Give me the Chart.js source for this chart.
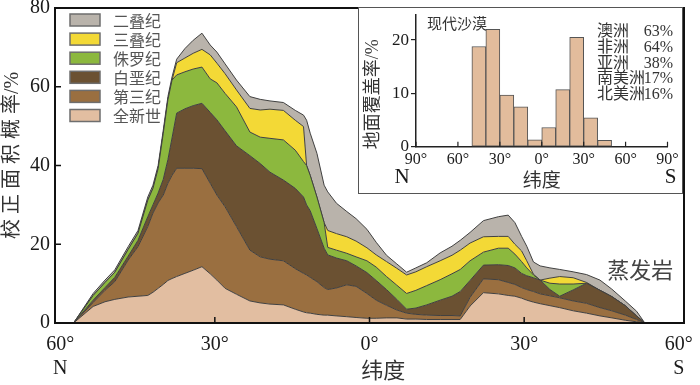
<!DOCTYPE html>
<html lang="zh">
<head>
<meta charset="utf-8">
<title>蒸发岩 纬度分布</title>
<script src="https://cdn.jsdelivr.net/npm/chart.js@4.4.1/dist/chart.umd.min.js"></script>
<style>
  body { margin: 0; background: #fff; }
  #wrap { position: relative; width: 700px; height: 385px; overflow: hidden; }
  #main { position: absolute; left: 0; top: 0; }
  #insetBox { position: absolute; left: 358px; top: 7px; width: 325px; height: 187px;
              box-sizing: border-box; border: 1px solid #555; background: #fff; }
  #inset { display: block; }
</style>
</head>
<body>
<div id="wrap">
  <canvas id="main" width="700" height="385"></canvas>
  <div id="insetBox"><canvas id="inset" width="323" height="185"></canvas></div>
</div>
<script>
// ================= MAIN DATA =================
// latitude of each sample (north positive, south negative)
const latitude = [57.4, 53.6, 51.3, 49.4, 46.8, 44.9, 43.0, 42.0, 41.0, 40.0, 39.1, 38.3, 37.4, 35.8, 34.2, 32.5,
  30.9, 29.6, 28.0, 25.8, 23.2, 21.2, 19.3, 16.7, 14.4, 12.8, 12.2, 11.5, 10.2, 8.8, 8.1, 6.4, 4.4, 2.6, 0.5,
  -1.3, -3.3, -5.3, -7.2, -9.0, -11.1, -13.7, -16.0, -17.6, -19.5, -22.1, -25.0, -26.9, -28.2, -29.5, -30.5,
  -31.8, -33.1, -35.0, -36.9, -39.5, -42.1, -44.7, -47.0, -49.6, -51.8, -53.4];

// upper edge of each band (cumulative %, bottom band first)
const topHolocene = [0, 4.2, 5.4, 6.0, 6.6, 6.8, 7.0, 7.8, 8.8, 9.8, 10.8, 11.3, 11.8, 12.6, 13.4, 14.3,
  12.5, 10.9, 8.8, 7.3, 5.6, 5.1, 4.8, 4.6, 3.5, 2.8, 2.6, 2.5, 2.2, 2.0, 2.0, 1.8, 1.6, 1.4, 1.2,
  1.2, 1.3, 1.3, 1.0, 1.0, 0.9, 0.9, 0.9, 0.9, 4.3, 7.7, 7.4, 7.0, 6.8, 6.3, 5.8,
  5.3, 4.9, 4.4, 3.9, 3.1, 2.5, 1.8, 1.3, 0.7, 0.3, 0];
const topTertiary = [0, 5.2, 8.3, 10.5, 16.0, 19.4, 24.5, 27.9, 30.5, 32.5, 35.5, 37.5, 39.3, 39.3, 39.3, 39.2,
  35.5, 32.5, 29.5, 24.5, 18.5, 16.8, 16.2, 15.8, 13.8, 12.6, 12.2, 11.6, 10.5, 9.0, 8.5, 8.9, 9.7, 9.3, 7.5,
  5.8, 4.5, 3.3, 2.5, 2.2, 2.0, 1.9, 1.9, 1.8, 6.5, 11.2, 11.0, 10.3, 9.8, 9.0, 8.5,
  8.0, 7.4, 6.9, 6.4, 5.6, 5.0, 3.9, 3.1, 2.0, 0.9, 0];
const topCretaceous = [0, 5.8, 9.0, 11.6, 17.0, 21.0, 27.0, 30.0, 33.0, 36.5, 41.5, 47.0, 53.3, 54.4, 55.2, 55.8,
  53.5, 51.6, 48.8, 45.0, 42.5, 40.5, 38.3, 36.3, 34.2, 32.0, 30.0, 28.5, 24.0, 19.0, 17.3, 16.5, 15.8, 14.5, 12.8,
  10.8, 8.5, 6.0, 3.5, 3.8, 4.6, 5.8, 6.8, 8.0, 10.8, 14.7, 14.8, 14.6, 14.0, 12.6, 12.0,
  11.5, 10.9, 8.5, 6.8, 8.4, 10.1, 8.3, 6.7, 4.4, 1.8, 0];
const topJurassic = [0, 7.0, 10.3, 12.9, 18.7, 22.8, 31.2, 34.2, 39.2, 48.2, 56.7, 61.7, 63.0, 63.8, 64.5, 65.0,
  62.0, 61.0, 58.3, 54.9, 48.5, 47.2, 46.9, 46.5, 43.9, 41.0, 40.0, 37.5, 32.0, 25.5, 19.2, 18.5, 17.7, 16.8, 15.8,
  14.2, 11.8, 9.6, 7.5, 8.3, 9.5, 11.0, 12.5, 13.6, 15.8, 18.0, 19.0, 19.0, 17.5, 15.6, 14.0,
  12.2, 10.9, 10.1, 9.9, 9.9, 10.1, 8.3, 6.7, 4.4, 1.8, 0];
const topTriassic = [0, 7.0, 10.3, 12.9, 18.7, 22.8, 31.2, 34.2, 39.2, 48.2, 56.7, 61.7, 66.1, 67.3, 68.5, 69.5,
  68.1, 66.0, 63.3, 59.2, 54.5, 54.1, 54.3, 54.0, 51.5, 49.9, 40.0, 37.5, 32.0, 25.5, 23.5, 22.7, 21.9, 20.8, 19.1,
  17.3, 15.6, 13.9, 12.2, 13.0, 14.3, 15.8, 17.2, 18.5, 20.3, 21.9, 22.0, 22.0, 20.0, 18.3, 15.8,
  12.4, 10.9, 11.4, 11.8, 11.5, 10.3, 8.3, 6.7, 4.4, 1.8, 0];
const topPermian = [0, 7.5, 10.9, 13.5, 19.4, 23.5, 32.0, 35.0, 40.0, 49.0, 57.5, 62.5, 67.0, 69.7, 71.8, 73.6,
  70.6, 68.8, 65.8, 61.7, 57.5, 56.8, 56.4, 56.0, 54.0, 52.8, 51.5, 48.2, 43.1, 35.0, 33.3, 30.4, 28.3, 26.5, 23.8,
  20.5, 17.2, 15.0, 12.9, 14.0, 15.3, 17.8, 19.5, 21.0, 23.0, 26.0, 27.0, 27.4, 25.5, 22.0, 19.5,
  15.5, 14.5, 14.0, 13.6, 13.0, 12.3, 10.9, 8.6, 5.6, 3.0, 0];

const periodNames = ['全新世', '第三纪', '白垩纪', '侏罗纪', '三叠纪', '二叠纪'];
const periodTops = [topHolocene, topTertiary, topCretaceous, topJurassic, topTriassic, topPermian];
const periodColors = ['#e2bea1', '#9a6f40', '#6b5132', '#8cb83e', '#f3d936', '#b9b3ab'];

const mainTicks = [60, 30, 0, -30, -60];
const rockLabel = '蒸发岩';

// ================= INSET DATA =================
const binCenters = [45, 35, 25, 15, 5, -5, -15, -25, -35, -45];
const desertCover = [18.8, 22.0, 9.7, 7.5, 1.3, 3.6, 10.7, 20.5, 5.4, 1.2];
const insetTicks = [90, 60, 30, 0, -30, -60, -90];
const continents = ['澳洲', '非洲', '亚洲', '南美洲', '北美洲'];
const continentShare = [63, 64, 38, 17, 16];
const insetTitle = '现代沙漠';

// ================= FONTS =================
const SERIF = "'Liberation Serif', 'Noto Sans CJK SC', serif";
const CJK = "'Noto Sans CJK SC', sans-serif";

function degLabel(v) {
    return Math.abs(v) + '°';
}

// ================= MAIN PLUGIN =================
const mainDecor = {
    id: 'mainDecor',
    afterDraw(chart) {
        const { ctx, chartArea: a, scales: { x, y } } = chart;
        ctx.save();

        // frame
        ctx.strokeStyle = '#111';
        ctx.lineWidth = 2;
        ctx.strokeRect(a.left, a.top, a.right - a.left, a.bottom - a.top);

        // inward tick marks
        ctx.lineWidth = 1.5;
        ctx.beginPath();
        x.ticks.forEach(t => {
            if (Math.abs(t.value) >= 60) return;
            const px = x.getPixelForValue(t.value);
            ctx.moveTo(px, a.bottom);
            ctx.lineTo(px, a.bottom - 6);
        });
        y.ticks.forEach(t => {
            const py = y.getPixelForValue(t.value);
            ctx.moveTo(a.left, py);
            ctx.lineTo(a.left + 6, py);
        });
        ctx.stroke();

        // legend, top band first
        const sets = chart.data.datasets.slice().reverse();
        ctx.font = '16px ' + CJK;
        ctx.textBaseline = 'middle';
        ctx.textAlign = 'left';
        sets.forEach((ds, i) => {
            const by = a.top + 6 + i * 19.1;
            ctx.fillStyle = ds.backgroundColor;
            ctx.fillRect(a.left + 15, by, 30, 12);
            ctx.strokeStyle = '#6e6e6e';
            ctx.lineWidth = 1.5;
            ctx.strokeRect(a.left + 15, by, 30, 12);
            ctx.fillStyle = '#555';
            ctx.fillText(ds.label, a.left + 58, by + 6.5);
        });

        // evaporite label
        ctx.font = '22px ' + CJK;
        ctx.fillStyle = '#444';
        ctx.textAlign = 'center';
        ctx.fillText(rockLabel, x.getPixelForValue(-52.5), y.getPixelForValue(13.5));

        ctx.restore();
    }
};

// ================= MAIN CHART =================
new Chart(document.getElementById('main'), {
    type: 'line',
    data: {
        datasets: periodNames.map((name, k) => ({
            label: name,
            data: latitude.map((lat, i) => ({ x: lat, y: periodTops[k][i] })),
            backgroundColor: periodColors[k],
            borderColor: '#404040',
            borderWidth: 1,
            pointRadius: 0,
            tension: 0,
            fill: k === 0 ? 'origin' : '-1'
        }))
    },
    options: {
        responsive: false,
        animation: false,
        events: [],
        layout: { padding: { left: 0, right: 16, top: 8, bottom: 0 } },
        plugins: {
            legend: { display: false },
            tooltip: { enabled: false }
        },
        scales: {
            x: {
                type: 'linear',
                min: -61,
                max: 61,
                reverse: true,
                afterBuildTicks: s => { s.ticks = mainTicks.map(v => ({ value: v })); },
                afterFit: s => { s.height = 62; s.paddingLeft = 0; s.paddingRight = 0; },
                grid: { display: false, drawTicks: false },
                border: { display: false },
                ticks: {
                    autoSkip: false,
                    maxRotation: 0,
                    padding: 10,
                    color: '#1a1a1a',
                    font: { family: SERIF, size: 20, lineHeight: 1.2 },
                    callback: v => v === 60 ? [degLabel(v), 'N'] : v === -60 ? [degLabel(v), 'S'] : degLabel(v)
                },
                title: {
                    display: true,
                    text: '\u3000 纬度',
                    color: '#333',
                    padding: 0,
                    font: { family: SERIF, size: 22 }
                }
            },
            y: {
                min: 0,
                max: 80,
                afterFit: s => { s.width = 55; s.paddingTop = 0; s.paddingBottom = 0; },
                grid: { display: false, drawTicks: false },
                border: { display: false },
                ticks: {
                    stepSize: 20,
                    padding: 5,
                    color: '#1a1a1a',
                    font: { family: SERIF, size: 20 }
                },
                title: {
                    display: true,
                    text: '\u2002\u2002校 正 面 积 概 率/%',
                    color: '#333',
                    padding: { top: 1, bottom: 0 },
                    font: { family: SERIF, size: 20 }
                }
            }
        }
    },
    plugins: [mainDecor]
});

// ================= INSET PLUGIN =================
const insetDecor = {
    id: 'insetDecor',
    afterDraw(chart) {
        const { ctx, chartArea: a, scales: { x } } = chart;
        ctx.save();

        // inward x tick marks
        ctx.strokeStyle = '#222';
        ctx.lineWidth = 1.2;
        ctx.beginPath();
        x.ticks.forEach(t => {
            const px = x.getPixelForValue(t.value);
            ctx.moveTo(px, a.bottom);
            ctx.lineTo(px, a.bottom - 5);
        });
        ctx.stroke();

        // title
        ctx.fillStyle = '#333';
        ctx.font = '15px ' + CJK;
        ctx.textAlign = 'left';
        ctx.textBaseline = 'middle';
        ctx.fillText(insetTitle, a.left + 11, a.top + 8);

        // continent shares
        ctx.font = '16px ' + SERIF;
        continents.forEach((c, i) => {
            const ty = a.top + 17 + i * 15.75;
            ctx.textAlign = 'left';
            ctx.fillText(c, a.left + 181, ty);
            ctx.textAlign = 'right';
            ctx.fillText(continentShare[i] + '%', a.left + 257, ty);
        });

        // hemisphere letters
        ctx.fillStyle = '#1a1a1a';
        ctx.font = '21px ' + SERIF;
        ctx.textAlign = 'center';
        ctx.fillText('N', x.getPixelForValue(90) - 14, a.bottom + 31);
        ctx.fillText('S', x.getPixelForValue(-90) + 3, a.bottom + 31);

        ctx.restore();
    }
};

// ================= INSET CHART =================
new Chart(document.getElementById('inset'), {
    type: 'bar',
    data: {
        datasets: [{
            data: binCenters.map((c, i) => ({ x: c, y: desertCover[i] })),
            backgroundColor: '#e2bc9c',
            borderColor: '#555',
            borderWidth: 1,
            borderSkipped: false,
            barPercentage: 1,
            categoryPercentage: 1
        }]
    },
    options: {
        responsive: false,
        animation: false,
        events: [],
        layout: { padding: { left: 0, right: 14.5, top: 7, bottom: 0 } },
        plugins: {
            legend: { display: false },
            tooltip: { enabled: false }
        },
        scales: {
            x: {
                type: 'linear',
                min: -90,
                max: 90,
                reverse: true,
                offset: false,
                afterBuildTicks: s => { s.ticks = insetTicks.map(v => ({ value: v })); },
                afterFit: s => { s.height = 46.3; s.paddingLeft = 0; s.paddingRight = 0; },
                grid: { display: false, drawTicks: false },
                border: { display: true, color: '#222', width: 1.5 },
                ticks: {
                    autoSkip: false,
                    maxRotation: 0,
                    padding: 3,
                    color: '#1a1a1a',
                    font: { family: SERIF, size: 16 },
                    callback: v => degLabel(v)
                },
                title: {
                    display: true,
                    text: '纬度',
                    color: '#333',
                    padding: 0,
                    font: { family: SERIF, size: 19 }
                }
            },
            y: {
                min: 0,
                max: 24.7,
                afterFit: s => { s.width = 57; s.paddingTop = 0; s.paddingBottom = 0; },
                grid: { display: true, drawOnChartArea: false, drawTicks: true, tickLength: 5, color: '#222', lineWidth: 1.2 },
                border: { display: true, color: '#222', width: 1.5 },
                ticks: {
                    stepSize: 10,
                    includeBounds: false,
                    padding: 2,
                    color: '#1a1a1a',
                    font: { family: SERIF, size: 17 }
                },
                title: {
                    display: true,
                    text: '地面覆盖率/%\u3000\u2002',
                    color: '#333',
                    padding: { top: 3, bottom: 0 },
                    font: { family: SERIF, size: 18 }
                }
            }
        }
    },
    plugins: [insetDecor]
});
</script>
</body>
</html>
